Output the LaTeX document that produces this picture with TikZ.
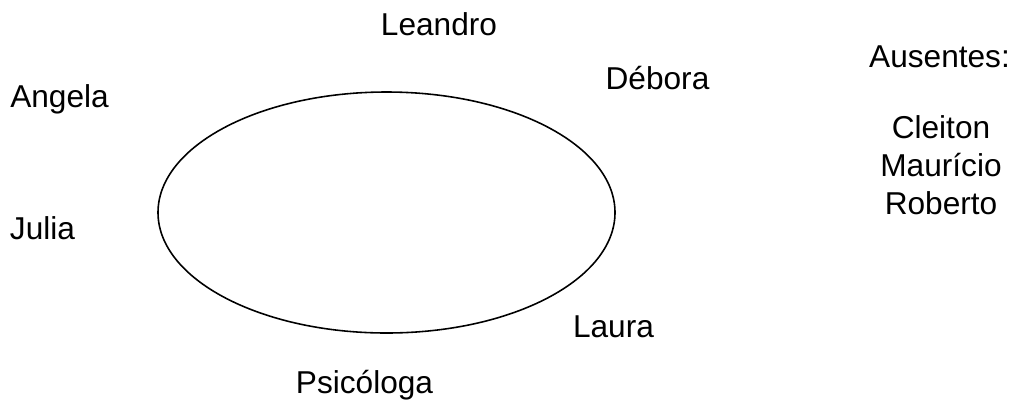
\documentclass[tikz,border=0pt]{standalone}
\usepackage{fontspec}
\setmainfont{Liberation Sans}
\usetikzlibrary{shapes.geometric}
\begin{document}
\begin{tikzpicture}[x=0.02cm,y=-0.02cm,
  lbl/.style={font=\fontsize{18pt}{21.6pt}\selectfont, inner sep=0pt, anchor=base}]
\useasboundingbox (0,0) rectangle (1014,400);
\node[draw, ellipse, line width=0.9pt, minimum width=457*0.02cm, minimum height=241*0.02cm, inner sep=0pt] (ring) at (386.5,212.5) {};
\node[lbl] (leandro) at (439,35) {Leandro};
\node[lbl] (debora) at (657.5,89) {Débora};
\node[lbl] (angela) at (59.5,107) {Angela};
\node[lbl] (julia) at (42.5,239) {Julia};
\node[lbl] (laura) at (613.5,337) {Laura};
\node[lbl] (psicologa) at (364.5,393) {Psicóloga};
\node[lbl] (ausentes) at (939.5,67) {Ausentes:};
\node[lbl] (cleiton) at (941,138) {Cleiton};
\node[lbl] (mauricio) at (941,176) {Maurício};
\node[lbl] (roberto) at (941,214) {Roberto};
\end{tikzpicture}
\end{document}
